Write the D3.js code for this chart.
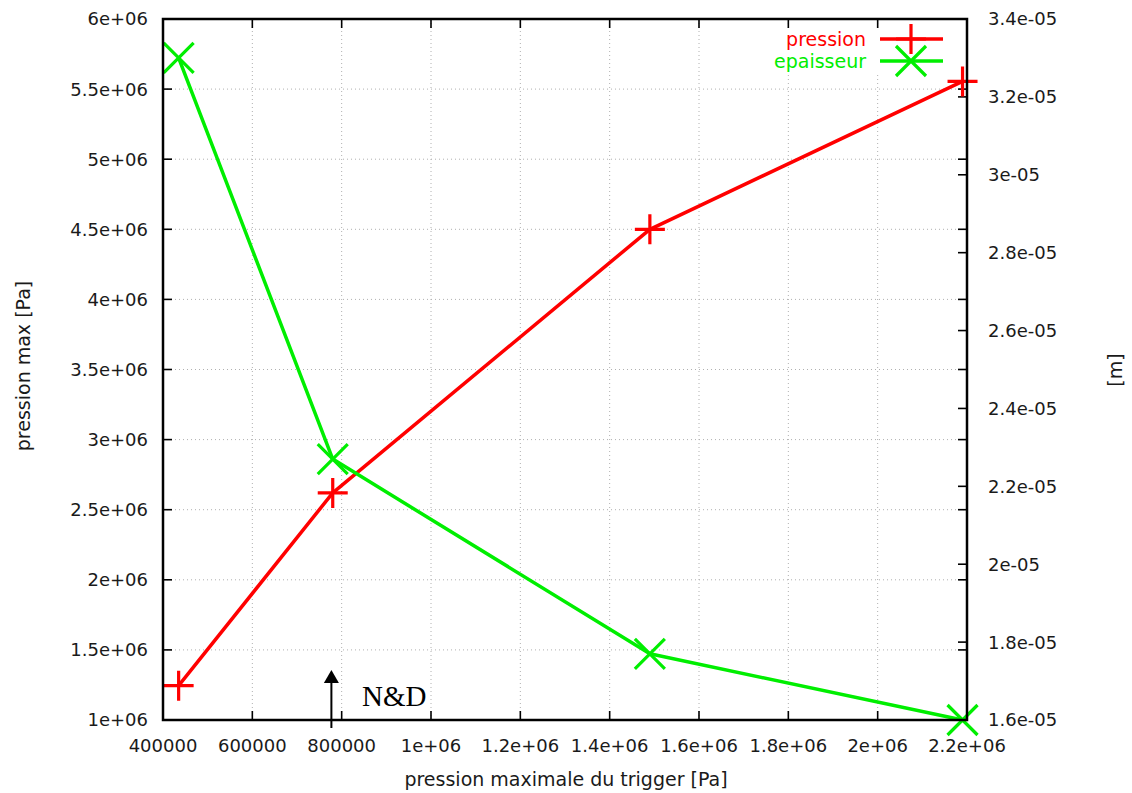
<!DOCTYPE html>
<html>
<head>
<meta charset="utf-8">
<script src="https://cdn.jsdelivr.net/npm/d3@7"></script>
<style>
  html, body { margin: 0; padding: 0; background: #fff; }
  svg { display: block; }
  text { font-family: "DejaVu Sans", sans-serif; }
  text.serif { font-family: "Liberation Serif", "DejaVu Serif", serif; }
</style>
</head>
<body>
<svg id="chart" width="1132" height="793"></svg>
<script>
// ---- data ----
const triggerPressure = [435000, 780000, 1490000, 2190000];
const pressionMax = [1.245e6, 2.62e6, 4.5e6, 5.555e6];
const epaisseur = [3.3e-5, 2.27e-5, 1.77e-5, 1.6e-5];

const xTicks = [400000, 600000, 800000, 1e6, 1.2e6, 1.4e6, 1.6e6, 1.8e6, 2e6, 2.2e6];
const xTickLabels = ["400000", "600000", "800000", "1e+06", "1.2e+06", "1.4e+06", "1.6e+06", "1.8e+06", "2e+06", "2.2e+06"];
const y1Ticks = [1e6, 1.5e6, 2e6, 2.5e6, 3e6, 3.5e6, 4e6, 4.5e6, 5e6, 5.5e6, 6e6];
const y1TickLabels = ["1e+06", "1.5e+06", "2e+06", "2.5e+06", "3e+06", "3.5e+06", "4e+06", "4.5e+06", "5e+06", "5.5e+06", "6e+06"];
const y2Ticks = [1.6e-5, 1.8e-5, 2.0e-5, 2.2e-5, 2.4e-5, 2.6e-5, 2.8e-5, 3.0e-5, 3.2e-5, 3.4e-5];
const y2TickLabels = ["1.6e-05", "1.8e-05", "2e-05", "2.2e-05", "2.4e-05", "2.6e-05", "2.8e-05", "3e-05", "3.2e-05", "3.4e-05"];

const seriesNames = ["pression", "epaisseur"];
const seriesColors = ["#ff0000", "#00ee00"];
const annotationX = 777000;
const annotationYRange = [0.943e6, 1.357e6];
const annotationLabel = "N&D";

// ---- layout ----
const L = 163, R = 967, T = 19, B = 720;
const svg = d3.select("#chart");

const x = d3.scaleLinear().domain([400000, 2200000]).range([L, R]);
const y1 = d3.scaleLinear().domain([1e6, 6e6]).range([B, T]);
const y2 = d3.scaleLinear().domain([1.6e-5, 3.4e-5]).range([B, T]);

// grid
const grid = svg.append("g").attr("stroke", "#b0b0b0").attr("stroke-width", 1).attr("stroke-dasharray", "1,3");
xTicks.slice(1, -1).forEach(v => grid.append("line").attr("x1", x(v)).attr("x2", x(v)).attr("y1", T).attr("y2", B));
y1Ticks.slice(1, -1).forEach(v => grid.append("line").attr("y1", y1(v)).attr("y2", y1(v)).attr("x1", L).attr("x2", R));

// key background
svg.append("rect").attr("x", 772).attr("y", 28).attr("width", 182).attr("height", 46).attr("fill", "#fff");

// ticks (inward, mirrored)
const tk = svg.append("g").attr("stroke", "#000").attr("stroke-width", 1.6);
const TL = 9;
xTicks.forEach(v => {
  tk.append("line").attr("x1", x(v)).attr("x2", x(v)).attr("y1", B).attr("y2", B - TL);
  tk.append("line").attr("x1", x(v)).attr("x2", x(v)).attr("y1", T).attr("y2", T + TL);
});
y1Ticks.forEach(v => {
  tk.append("line").attr("y1", y1(v)).attr("y2", y1(v)).attr("x1", L).attr("x2", L + TL);
  tk.append("line").attr("y1", y1(v)).attr("y2", y1(v)).attr("x1", R).attr("x2", R - TL);
});
y2Ticks.forEach(v => {
  tk.append("line").attr("y1", y2(v)).attr("y2", y2(v)).attr("x1", R).attr("x2", R - TL);
});

// tick labels
const lab = svg.append("g").attr("fill", "#1a1a1a").attr("font-size", 18);
xTicks.forEach((v, i) => lab.append("text").attr("x", x(v)).attr("y", 752).attr("text-anchor", "middle").text(xTickLabels[i]));
y1Ticks.forEach((v, i) => lab.append("text").attr("x", 148).attr("y", y1(v)).attr("dy", "0.36em").attr("text-anchor", "end").text(y1TickLabels[i]));
y2Ticks.forEach((v, i) => lab.append("text").attr("x", 988).attr("y", y2(v)).attr("dy", "0.36em").attr("text-anchor", "start").text(y2TickLabels[i]));

// axis titles
svg.append("text").attr("x", 566).attr("y", 786).attr("text-anchor", "middle").attr("font-size", 19).attr("fill", "#1a1a1a")
  .text("pression maximale du trigger [Pa]");
svg.append("text").attr("transform", "translate(23,366) rotate(-90)").attr("text-anchor", "middle").attr("dy", "0.35em")
  .attr("font-size", 19).attr("fill", "#1a1a1a").text("pression max [Pa]");
svg.append("text").attr("transform", "translate(1115,370) rotate(-90)").attr("text-anchor", "middle").attr("dy", "0.35em")
  .attr("font-size", 19).attr("fill", "#1a1a1a").text("[m]");

// markers
function plus(g, cx, cy, color) {
  g.append("path").attr("d", `M${cx - 15},${cy}H${cx + 15}M${cx},${cy - 15}V${cy + 15}`)
    .attr("stroke", color).attr("stroke-width", 3.2).attr("fill", "none");
}
function cross(g, cx, cy, color) {
  g.append("path").attr("d", `M${cx - 15},${cy - 15}L${cx + 15},${cy + 15}M${cx - 15},${cy + 15}L${cx + 15},${cy - 15}`)
    .attr("stroke", color).attr("stroke-width", 3.2).attr("fill", "none");
}

const plot = svg.append("g");
const lineP = d3.line().x((d, i) => x(triggerPressure[i])).y(d => y1(d));
const lineE = d3.line().x((d, i) => x(triggerPressure[i])).y(d => y2(d));
plot.append("path").attr("d", lineP(pressionMax)).attr("stroke", seriesColors[0]).attr("stroke-width", 3.5).attr("fill", "none").attr("stroke-linejoin", "round");
plot.append("path").attr("d", lineE(epaisseur)).attr("stroke", seriesColors[1]).attr("stroke-width", 3.5).attr("fill", "none").attr("stroke-linejoin", "round");
pressionMax.forEach((v, i) => plus(plot, x(triggerPressure[i]), y1(v), seriesColors[0]));
epaisseur.forEach((v, i) => cross(plot, x(triggerPressure[i]), y2(v), seriesColors[1]));

// border
svg.append("rect").attr("x", L).attr("y", T).attr("width", R - L).attr("height", B - T)
  .attr("fill", "none").attr("stroke", "#000").attr("stroke-width", 2.5);

// key
const key = svg.append("g");
[39, 61].forEach((ky, i) => {
  key.append("text").attr("x", 866).attr("y", ky).attr("dy", "0.36em").attr("text-anchor", "end")
    .attr("font-size", 19).attr("fill", seriesColors[i]).text(seriesNames[i]);
  key.append("line").attr("x1", 880).attr("x2", 943).attr("y1", ky).attr("y2", ky)
    .attr("stroke", seriesColors[i]).attr("stroke-width", 3.5);
  if (i === 0) plus(key, 911, ky, seriesColors[i]); else cross(key, 911, ky, seriesColors[i]);
});

// annotation arrow
const ax = x(annotationX), ayB = y1(annotationYRange[0]), ayT = y1(annotationYRange[1]);
svg.append("line").attr("x1", ax).attr("x2", ax).attr("y1", ayB).attr("y2", ayT + 10).attr("stroke", "#000").attr("stroke-width", 2);
svg.append("path").attr("d", `M${ax},${ayT}L${ax - 7.5},${ayT + 13}L${ax + 7.5},${ayT + 13}Z`).attr("fill", "#000");
svg.append("text").attr("class", "serif").attr("x", 362).attr("y", 706).attr("font-size", 29)
  .attr("fill", "#000").text(annotationLabel);
</script>
</body>
</html>
